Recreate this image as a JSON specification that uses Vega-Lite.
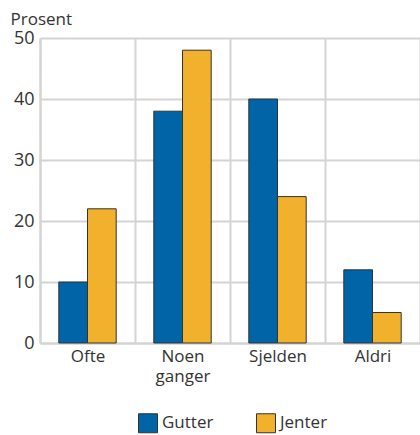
{
  "$schema": "https://vega.github.io/schema/vega-lite/v6.json",
  "width": 380,
  "height": 305,
  "autosize": {"type": "none"},
  "padding": {"left": 40, "top": 38, "right": 0, "bottom": 92},
  "background": "white",
  "config": {
    "font": "Open Sans",
    "view": {"stroke": null}
  },
  "data": {
    "values": [
      {"kategori": "Ofte", "kjonn": "Gutter", "prosent": 10},
      {"kategori": "Ofte", "kjonn": "Jenter", "prosent": 22},
      {"kategori": "Noen ganger", "kjonn": "Gutter", "prosent": 38},
      {"kategori": "Noen ganger", "kjonn": "Jenter", "prosent": 48},
      {"kategori": "Sjelden", "kjonn": "Gutter", "prosent": 40},
      {"kategori": "Sjelden", "kjonn": "Jenter", "prosent": 24},
      {"kategori": "Aldri", "kjonn": "Gutter", "prosent": 12},
      {"kategori": "Aldri", "kjonn": "Jenter", "prosent": 5}
    ]
  },
  "mark": {"type": "bar", "stroke": "#333333", "strokeWidth": 1},
  "encoding": {
    "x": {
      "field": "kategori",
      "type": "nominal",
      "sort": ["Ofte", "Noen ganger", "Sjelden", "Aldri"],
      "scale": {"paddingInner": 0, "paddingOuter": 0},
      "axis": {
        "title": null,
        "labelAngle": 0,
        "labelFontSize": 17,
        "labelColor": "#333333",
        "labelPadding": 5,
        "labelLineHeight": 20,
        "labelExpr": "datum.label == 'Noen ganger' ? ['Noen', 'ganger'] : datum.label",
        "tickBand": "extent",
        "ticks": false,
        "grid": true,
        "gridColor": "#d4d4d4",
        "gridWidth": 2,
        "domain": true,
        "domainColor": "#d4d4d4",
        "domainWidth": 2
      }
    },
    "xOffset": {
      "field": "kjonn",
      "type": "nominal",
      "scale": {"paddingInner": 0, "paddingOuter": 0.655}
    },
    "y": {
      "field": "prosent",
      "type": "quantitative",
      "scale": {"domain": [0, 50], "nice": false},
      "axis": {
        "values": [0, 10, 20, 30, 40, 50],
        "title": "Prosent",
        "titleAngle": 0,
        "titleAlign": "left",
        "titleBaseline": "alphabetic",
        "titleX": -30,
        "titleY": -14,
        "titleFontSize": 17,
        "titleFontWeight": "normal",
        "titleColor": "#333333",
        "labelFontSize": 18,
        "labelColor": "#333333",
        "labelPadding": 6,
        "ticks": false,
        "grid": true,
        "gridColor": "#d4d4d4",
        "gridWidth": 2,
        "domain": true,
        "domainColor": "#d4d4d4",
        "domainWidth": 2
      }
    },
    "color": {
      "field": "kjonn",
      "type": "nominal",
      "scale": {"domain": ["Gutter", "Jenter"], "range": ["#0064A6", "#F1B12D"]},
      "legend": {
        "title": null,
        "orient": "none",
        "direction": "horizontal",
        "legendX": 98,
        "legendY": 375,
        "symbolType": "square",
        "symbolSize": 361,
        "symbolStrokeColor": "#333333",
        "symbolStrokeWidth": 1,
        "symbolOpacity": 1,
        "labelFontSize": 17,
        "labelColor": "#333333",
        "labelOffset": 4,
        "columnPadding": 40
      }
    }
  }
}
